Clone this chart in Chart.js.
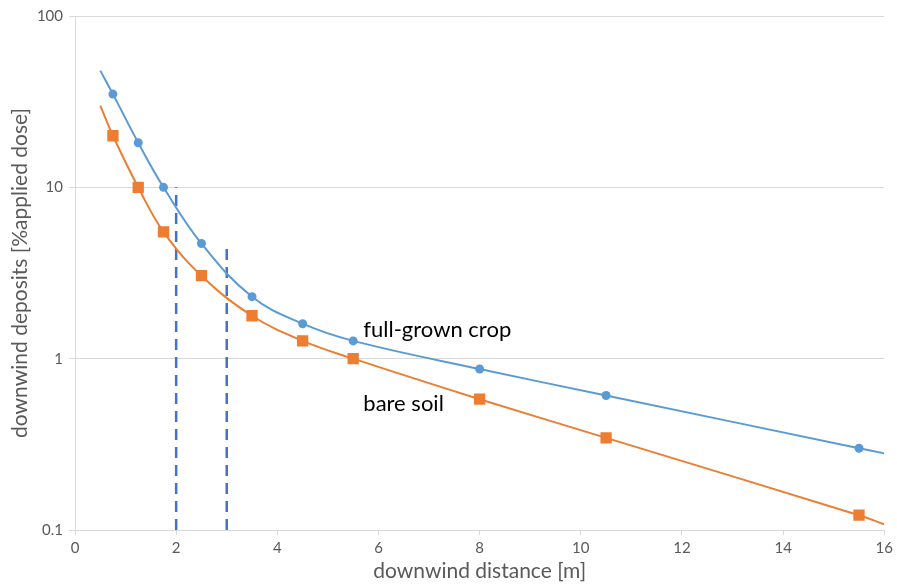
<!DOCTYPE html>
<html>
<head>
<meta charset="utf-8">
<script src="https://cdn.jsdelivr.net/npm/chart.js@4"></script>
<style>
  html, body { margin: 0; padding: 0; background: #fff; }
  #wrap { width: 897px; height: 588px; }
</style>
</head>
<body>
<div id="wrap"><canvas id="chart"></canvas></div>
<script>
"use strict";

// downwind distance [m]; first and last entries are only curve ends (no marker)
const distance = [0.5, 0.75, 1.25, 1.75, 2.5, 3.5, 4.5, 5.5, 8, 10.5, 15.5, 16];
const cropDeposit = [48, 35, 18.2, 10, 4.7, 2.3, 1.6, 1.27, 0.87, 0.61, 0.3, 0.28];
const soilDeposit = [30, 20, 10, 5.5, 3.05, 1.78, 1.27, 1.0, 0.58, 0.345, 0.122, 0.108];

// vertical dashed marks at 2 m and 3 m
const bufferDistance = [2, 3];
const bufferTop = [10, 4.5];

const yTicks = [0.1, 1, 10, 100];
const seriesNames = ["full-grown crop", "bare soil"];

const FONT = "Lato, 'Open Sans', sans-serif";
const GREY = "#595959";

function toPoints(xs, ys) {
  const pts = [];
  for (let i = 0; i < xs.length; i++) {
    pts.push({ x: xs[i], y: ys[i] });
  }
  return pts;
}

function markerRadius(r) {
  return distance.map((d, i) => (i === 0 || i === distance.length - 1 ? 0 : r));
}

const datasets = [
  {
    label: seriesNames[0],
    data: toPoints(distance, cropDeposit),
    borderColor: "#5B9BD5",
    backgroundColor: "#5B9BD5",
    borderWidth: 2,
    tension: 0.4,
    pointStyle: "circle",
    pointRadius: markerRadius(4.5),
    pointBorderWidth: 0,
  },
  {
    label: seriesNames[1],
    data: toPoints(distance, soilDeposit),
    borderColor: "#ED7D31",
    backgroundColor: "#ED7D31",
    borderWidth: 2,
    tension: 0.4,
    pointStyle: "rect",
    pointRadius: markerRadius(8),
    pointBorderWidth: 0,
  },
];

for (let i = 0; i < bufferDistance.length; i++) {
  datasets.push({
    label: "buffer " + bufferDistance[i] + " m",
    data: [
      { x: bufferDistance[i], y: 0.1 },
      { x: bufferDistance[i], y: bufferTop[i] },
    ],
    borderColor: "#4472C4",
    borderWidth: 2.5,
    borderDash: [11, 7],
    pointRadius: 0,
  });
}

// series names written next to the curves
const seriesLabels = {
  id: "seriesLabels",
  afterDatasetsDraw(chart) {
    const ctx = chart.ctx;
    const xs = chart.scales.x;
    const ys = chart.scales.y;
    ctx.save();
    ctx.fillStyle = "#000";
    ctx.font = "22px " + FONT;
    ctx.textBaseline = "middle";
    ctx.fillText(seriesNames[0], xs.getPixelForValue(5.7), ys.getPixelForValue(1.48));
    ctx.fillText(seriesNames[1], xs.getPixelForValue(5.7), ys.getPixelForValue(0.548));
    ctx.restore();
  },
};

const chartObj = {
  type: "line",
  data: { datasets: datasets },
  options: {
    responsive: true,
    maintainAspectRatio: false,
    animation: false,
    layout: { padding: { top: 16, right: 11, left: 0, bottom: 0 } },
    plugins: {
      legend: { display: false },
      tooltip: { enabled: false },
    },
    scales: {
      x: {
        type: "linear",
        min: 0,
        max: 16,
        ticks: {
          stepSize: 2,
          color: GREY,
          font: { family: FONT, size: 15 },
          padding: 4,
          maxRotation: 0,
        },
        grid: {
          drawOnChartArea: false,
          color: "#d9d9d9",
          tickLength: 5,
        },
        border: { color: "#d9d9d9" },
        title: {
          display: true,
          text: "downwind distance [m]",
          color: GREY,
          font: { family: FONT, size: 21 },
          padding: { top: 2 },
        },
        afterFit(scale) { scale.height = 58; },
      },
      y: {
        type: "logarithmic",
        min: 0.1,
        max: 100,
        afterBuildTicks(scale) {
          scale.ticks = yTicks.map((v) => ({ value: v }));
        },
        ticks: {
          color: GREY,
          font: { family: FONT, size: 15 },
          padding: 6,
          callback: (v) => String(v),
        },
        grid: {
          color: "#d9d9d9",
          tickLength: 6,
        },
        border: { color: "#d9d9d9" },
        title: {
          display: true,
          text: "downwind deposits [%applied dose]",
          color: GREY,
          font: { family: FONT, size: 21 },
          padding: { top: 8, bottom: 4 },
        },
        afterFit(scale) { scale.width = 75; },
      },
    },
  },
  plugins: [seriesLabels],
};

new Chart(document.getElementById("chart"), chartObj);
</script>
</body>
</html>
